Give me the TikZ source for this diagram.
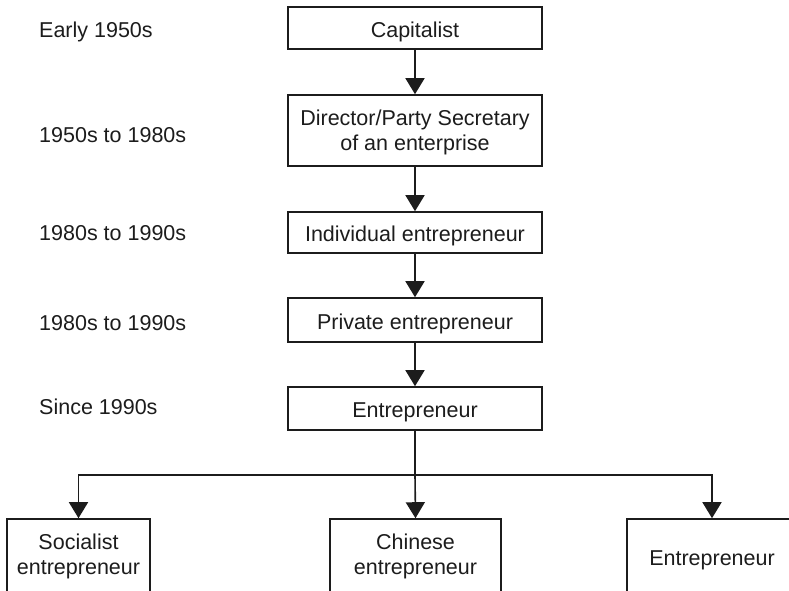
\documentclass[tikz,border=0pt]{standalone}
\usepackage{fontspec}
\setmainfont{Liberation Sans}
\usetikzlibrary{arrows.meta}
\definecolor{ink}{HTML}{1C1C1C}
\begin{document}
\begin{tikzpicture}[x=1pt,y=-1pt,
  every node/.style={font=\fontsize{21.5}{25}\selectfont, text=ink},
  stage/.style={draw=ink, line width=1.6pt, inner sep=0pt, align=center,
                minimum width=254pt},
  oneline/.style={text height=18.5pt, text depth=0pt},
  leaf/.style={draw=ink, line width=1.6pt, inner sep=0pt, align=center,
               minimum height=74pt},
  period/.style={anchor=base west, inner sep=0pt},
  flow/.style={draw=ink, line width=1.6pt, -{Triangle[length=16pt,width=19pt]}},
  trunk/.style={draw=ink, line width=1.6pt}]
  \useasboundingbox (0,0) rectangle (789,590);
  \clip (0,0) rectangle (789,590);

  % career stages
  \node[stage, oneline, minimum height=42pt] (cap) at (415,28) {Capitalist};
  \node[stage, minimum height=71pt, text height=40.4pt, text depth=0pt] (dir) at (415,130.5)
       {Director/Party Secretary\\of an enterprise};
  \node[stage, oneline, minimum height=41pt] (ind) at (415,232.5) {Individual entrepreneur};
  \node[stage, oneline, minimum height=44pt] (pri) at (415,320) {Private entrepreneur};
  \node[stage, oneline, minimum height=43pt] (ent) at (415,408.5) {Entrepreneur};

  % three outcomes, running off the lower edge
  \node[leaf, minimum width=143pt] (soc) at (78.5,556) {Socialist\\entrepreneur};
  \node[leaf, minimum width=171pt] (chi) at (415.5,556) {Chinese\\entrepreneur};
  \node[leaf, oneline, minimum width=170pt] (rgt) at (712,556) {Entrepreneur};

  % periods
  \node[period] (p1) at (39,37.7) {Early 1950s};
  \node[period] (p2) at (39,142.7) {1950s to 1980s};
  \node[period] (p3) at (39,240.7) {1980s to 1990s};
  \node[period] (p4) at (39,330.7) {1980s to 1990s};
  \node[period] (p5) at (39,414.7) {Since 1990s};

  % connectors
  \draw[flow] (cap) -- (dir);
  \draw[flow] (dir) -- (ind);
  \draw[flow] (ind) -- (pri);
  \draw[flow] (pri) -- (ent);

  \coordinate (split) at (415,475);
  \draw[trunk] (ent.south) -- (split);
  \draw[flow] (split) -| (soc.north);
  \draw[flow] (split) -- (chi.north);
  \draw[flow] (split) -| (rgt.north);
\end{tikzpicture}
\end{document}
